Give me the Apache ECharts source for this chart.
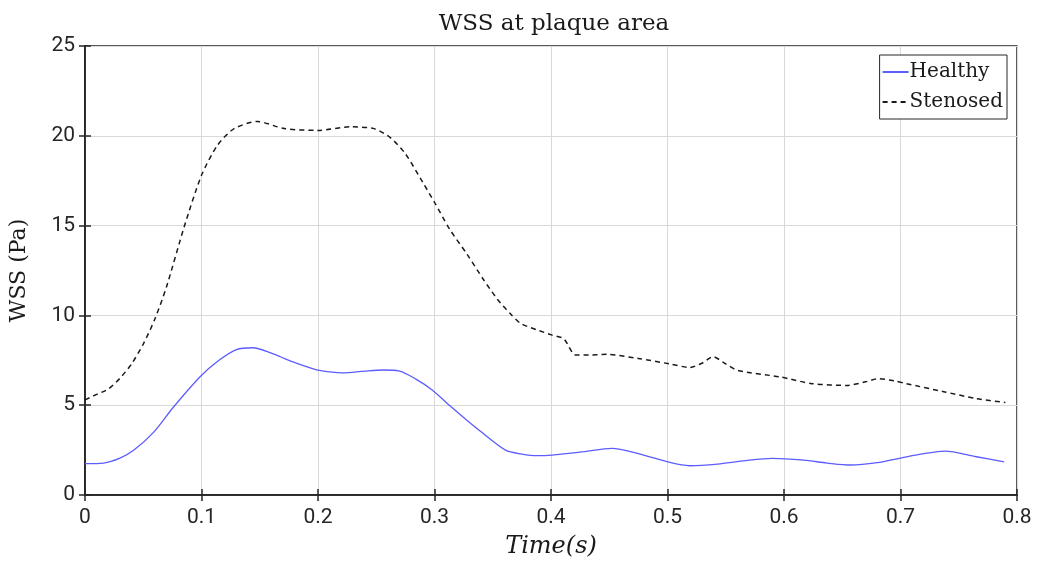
<!DOCTYPE html>
<html>
<head>
<meta charset="utf-8">
<script src="https://cdn.jsdelivr.net/npm/echarts@6/dist/echarts.min.js"></script>
<style>
  html, body { margin: 0; padding: 0; background: #ffffff; }
  #chart { width: 1038px; height: 566px; }
</style>
</head>
<body>
<div id="chart"></div>
<script>
// ---- Data ----
var titleText = 'WSS at plaque area';
var xAxisName = 'Time(s)';
var yAxisName = 'WSS (Pa)';
var seriesNames = ['Healthy', 'Stenosed'];

var timeHealthy = [0, 0.016, 0.03, 0.042, 0.059, 0.076, 0.099, 0.115, 0.130, 0.144, 0.16, 0.175, 0.19, 0.2, 0.221, 0.24, 0.256, 0.27, 0.284, 0.298, 0.3135, 0.328, 0.340, 0.361, 0.375, 0.388, 0.401, 0.415, 0.428, 0.452, 0.475, 0.502, 0.519, 0.543, 0.565, 0.59, 0.617, 0.637, 0.657, 0.68, 0.701, 0.72, 0.738, 0.765, 0.789];
var healthy = [1.75, 1.78, 2.05, 2.5, 3.5, 4.9, 6.6, 7.5, 8.1, 8.2, 7.9, 7.5, 7.15, 6.95, 6.8, 6.9, 6.96, 6.9, 6.45, 5.85, 4.95, 4.15, 3.52, 2.5, 2.28, 2.19, 2.22, 2.32, 2.41, 2.6, 2.31, 1.81, 1.63, 1.72, 1.9, 2.04, 1.94, 1.78, 1.67, 1.8, 2.07, 2.3, 2.44, 2.13, 1.85];

var timeStenosed = [0, 0.01, 0.02, 0.03, 0.04, 0.05, 0.06, 0.07, 0.085, 0.1, 0.114, 0.128, 0.148, 0.171, 0.2, 0.228, 0.248, 0.262, 0.275, 0.29, 0.3, 0.313, 0.328, 0.342, 0.354, 0.365, 0.374, 0.39, 0.401, 0.411, 0.421, 0.435, 0.448, 0.475, 0.502, 0.519, 0.53, 0.539, 0.55, 0.56, 0.597, 0.624, 0.654, 0.67, 0.681, 0.695, 0.705, 0.738, 0.765, 0.79];
var stenosed = [5.3, 5.6, 5.9, 6.5, 7.3, 8.4, 9.8, 11.6, 14.9, 17.8, 19.5, 20.4, 20.8, 20.4, 20.3, 20.5, 20.4, 19.9, 19.0, 17.4, 16.3, 14.8, 13.4, 12.0, 10.9, 10.1, 9.55, 9.15, 8.9, 8.7, 7.8, 7.8, 7.83, 7.6, 7.3, 7.1, 7.35, 7.7, 7.3, 6.94, 6.57, 6.2, 6.1, 6.3, 6.48, 6.35, 6.2, 5.74, 5.37, 5.15];

var xTicks = { min: 0, max: 0.8, interval: 0.1 };
var yTicks = { min: 0, max: 25, interval: 5 };

// ---- Build chart ----
function pairs(xs, ys) { return xs.map(function (x, i) { return [x, ys[i]]; }); }

var axisColor = '#262626';
var gridColor = '#d9d9d9';
var labelFont = 'Roboto, "Liberation Sans", sans-serif';
var serifFont = '"DejaVu Serif", "Liberation Serif", serif';

var chart = echarts.init(document.getElementById('chart'), null, { renderer: 'canvas' });

var commonAxis = {
  axisLine: { show: true, lineStyle: { color: axisColor, width: 1.5 } },
  axisTick: { show: true, inside: true, length: 6, lineStyle: { color: axisColor, width: 1.5 } }
};

var option = {
  backgroundColor: '#ffffff',
  animation: false,
  title: {
    text: titleText,
    left: 549,
    textAlign: 'center',
    top: 8,
    textStyle: { fontFamily: serifFont, fontSize: 23, fontWeight: 'normal', color: '#1a1a1a' }
  },
  legend: {
    data: seriesNames,
    orient: 'vertical',
    right: 31,
    top: 55,
    itemWidth: 26,
    itemHeight: 20,
    itemGap: 10,
    padding: [7, 4, 7, 2],
    backgroundColor: '#ffffff',
    borderColor: axisColor,
    borderWidth: 1,
    itemStyle: { color: 'transparent', borderWidth: 0, opacity: 0 },
    textStyle: { fontFamily: serifFont, fontSize: 20, color: '#1a1a1a', padding: [0, 0, 0, -4] }
  },
  grid: {
    left: 80, right: 21, top: 46, bottom: 71,
    show: true, borderColor: axisColor, borderWidth: 1.5, backgroundColor: '#ffffff'
  },
  xAxis: [
    Object.assign({}, commonAxis, {
      type: 'value', position: 'bottom',
      min: xTicks.min, max: xTicks.max, interval: xTicks.interval,
      name: xAxisName, nameLocation: 'middle', nameGap: 40,
      nameTextStyle: { fontFamily: serifFont, fontStyle: 'italic', fontSize: 24, color: '#1a1a1a' },
      axisLabel: {
        margin: 12, color: axisColor, fontFamily: labelFont, fontSize: 21,
        formatter: function (v) { return String(+v.toFixed(1)); }
      },
      splitLine: { show: true, lineStyle: { color: gridColor, width: 1 } }
    }),
    Object.assign({}, commonAxis, {
      type: 'value', position: 'top',
      min: xTicks.min, max: xTicks.max, interval: xTicks.interval,
      axisLabel: { show: false }, splitLine: { show: false }
    })
  ],
  yAxis: [
    Object.assign({}, commonAxis, {
      type: 'value', position: 'left',
      min: yTicks.min, max: yTicks.max, interval: yTicks.interval,
      name: yAxisName, nameLocation: 'middle', nameGap: 55, nameRotate: 90,
      nameTextStyle: { fontFamily: serifFont, fontSize: 22, color: '#1a1a1a' },
      axisLabel: { margin: 10, color: axisColor, fontFamily: labelFont, fontSize: 21 },
      splitLine: { show: true, lineStyle: { color: gridColor, width: 1 } }
    }),
    Object.assign({}, commonAxis, {
      type: 'value', position: 'right',
      min: yTicks.min, max: yTicks.max, interval: yTicks.interval,
      axisLabel: { show: false }, splitLine: { show: false }
    })
  ],
  series: [
    {
      name: seriesNames[0], type: 'line', xAxisIndex: 0, yAxisIndex: 0,
      data: pairs(timeHealthy, healthy),
      smooth: 0.3, symbol: 'none',
      lineStyle: { color: '#5c5cff', width: 1.3 },
      itemStyle: { color: '#5c5cff' }
    },
    {
      name: seriesNames[1], type: 'line', xAxisIndex: 0, yAxisIndex: 0,
      data: pairs(timeStenosed, stenosed),
      smooth: 0.25, symbol: 'none',
      lineStyle: { color: '#1a1a1a', width: 1.5, type: [5, 4] },
      itemStyle: { color: '#1a1a1a' }
    }
  ]
};

chart.setOption(option);
</script>
</body>
</html>
